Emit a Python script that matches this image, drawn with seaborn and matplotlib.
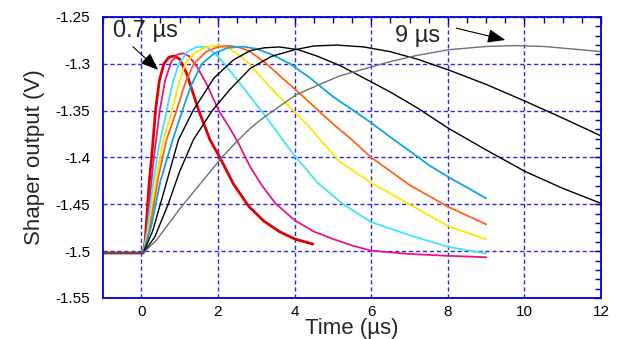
import numpy as np
import pandas as pd
import matplotlib
matplotlib.use("Agg")
import matplotlib.pyplot as plt
from matplotlib.ticker import MultipleLocator
import seaborn as sns

# ── Data (time in µs, output in V) ─────────────────────────────────────────

BASE = -1.502

t_07 = [-1, 0.05, 0.1, 0.2, 0.3, 0.37, 0.47, 0.59, 0.72, 0.87, 1.0, 1.18, 1.5,
        1.79, 2.05, 2.4, 2.8, 3.2, 3.6, 4.0, 4.48]
v_07 = [BASE, BASE, -1.49, -1.43, -1.385, -1.35, -1.318, -1.30, -1.293, -1.2915,
        -1.295, -1.31, -1.35, -1.381, -1.40, -1.428, -1.452, -1.468, -1.479,
        -1.487, -1.4925]

t_pink = [-1, 0.05, 0.15, 0.3, 0.48, 0.62, 0.78, 0.95, 1.1, 1.25, 1.45, 1.71, 2.02,
          2.3, 2.55, 2.84, 3.15, 3.5, 4.0, 4.5, 5.0, 5.5, 6.0, 7.0, 8.0, 9.0]
v_pink = [BASE, BASE, -1.475, -1.41, -1.35, -1.318, -1.298, -1.29, -1.2888, -1.292,
          -1.303, -1.322, -1.35, -1.368, -1.386, -1.41, -1.43, -1.449, -1.467,
          -1.479, -1.487, -1.494, -1.4995, -1.503, -1.505, -1.5065]

t_cyan = [-1, 0.05, 0.15, 0.3, 0.45, 0.66, 0.82, 0.98, 1.2, 1.45, 1.7, 1.95, 2.17,
          2.5, 2.84, 3.26, 3.67, 4.0, 4.6, 5.27, 6.0, 7.0, 8.0, 9.0]
v_cyan = [BASE, BASE, -1.48, -1.43, -1.39, -1.35, -1.32, -1.30, -1.287, -1.282,
          -1.282, -1.29, -1.30, -1.317, -1.335, -1.357, -1.38, -1.398, -1.427,
          -1.45, -1.469, -1.483, -1.4954, -1.5024]

t_yel = [-1, 0.05, 0.2, 0.4, 0.58, 0.8, 1.0, 1.15, 1.4, 1.7, 2.0, 2.3, 2.6, 2.84,
         3.2, 3.6, 3.97, 4.4, 4.71, 5.19, 6.0, 7.0, 8.0, 9.0]
v_yel = [BASE, BASE, -1.475, -1.42, -1.381, -1.35, -1.318, -1.30, -1.288, -1.282,
         -1.2807, -1.284, -1.292, -1.301, -1.318, -1.335, -1.35, -1.368, -1.383,
         -1.405, -1.427, -1.45, -1.4732, -1.4874]

t_orng = [-1, 0.05, 0.2, 0.45, 0.66, 0.92, 1.15, 1.37, 1.7, 2.0, 2.32, 2.6, 2.84,
          3.27, 3.7, 4.2, 4.62, 5.0, 5.49, 6.0, 7.0, 8.0, 9.0]
v_orng = [BASE, BASE, -1.48, -1.42, -1.381, -1.35, -1.32, -1.30, -1.287, -1.282,
          -1.2807, -1.283, -1.287, -1.30, -1.316, -1.334, -1.35, -1.364, -1.381,
          -1.40, -1.4294, -1.4525, -1.4714]

t_blue = [-1, 0.05, 0.25, 0.5, 0.82, 1.07, 1.3, 1.58, 1.9, 2.25, 2.66, 3.0, 3.4,
          3.88, 4.4, 5.0, 5.54, 6.0, 6.49, 7.0, 7.5, 8.06, 8.5, 9.0]
v_blue = [BASE, BASE, -1.475, -1.425, -1.381, -1.35, -1.323, -1.30, -1.289, -1.283,
          -1.2817, -1.284, -1.29, -1.30, -1.315, -1.335, -1.35, -1.363, -1.378,
          -1.393, -1.408, -1.422, -1.432, -1.4437]

t_blk1 = [-1, 0.05, 0.3, 0.6, 0.97, 1.35, 1.9, 2.4, 2.84, 3.2, 3.6, 4.1, 4.6, 5.19,
          5.8, 6.49, 7.2, 8.02, 9.0, 10.02, 11.0, 12.0]
v_blk1 = [BASE, BASE, -1.478, -1.435, -1.381, -1.35, -1.315, -1.296, -1.286, -1.283,
          -1.282, -1.285, -1.292, -1.302, -1.315, -1.33, -1.347, -1.369, -1.392,
          -1.415, -1.433, -1.449]

t_blk2 = [-1, 0.05, 0.35, 0.7, 1.0, 1.36, 1.85, 2.3, 2.84, 3.4, 4.0, 4.5, 5.1, 5.8,
          6.49, 7.2, 8.02, 9.0, 10.02, 11.0, 12.0]
v_blk2 = [BASE, BASE, -1.485, -1.45, -1.415, -1.381, -1.35, -1.328, -1.305, -1.292,
          -1.285, -1.281, -1.280, -1.282, -1.287, -1.295, -1.3066, -1.322, -1.340,
          -1.358, -1.377]

t_9 = [-1, 0.05, 0.4, 1.0, 1.5, 2.1, 2.49, 2.84, 3.17, 4.04, 5.17, 6.49, 7.2, 8.02,
       9.0, 9.7, 10.5, 11.2, 12.0]
v_9 = [BASE, BASE, -1.488, -1.455, -1.43, -1.40, -1.383, -1.369, -1.358, -1.333,
       -1.313, -1.2977, -1.291, -1.285, -1.2815, -1.2806, -1.2815, -1.284, -1.287]

CURVES = [
    ("0.7", t_07, v_07, "#e00000", 2.0),
    ("pink", t_pink, v_pink, "#ee1480", 1.3),
    ("cyan", t_cyan, v_cyan, "#40e4f4", 1.3),
    ("yellow", t_yel, v_yel, "#ffe600", 1.3),
    ("orange", t_orng, v_orng, "#ff6414", 1.3),
    ("blue", t_blue, v_blue, "#10a4e4", 1.3),
    ("black1", t_blk1, v_blk1, "#000000", 1.0),
    ("black2", t_blk2, v_blk2, "#000000", 1.0),
    ("9", t_9, v_9, "#707070", 1.0),
]

AXIS_BLUE = "#0000cc"
GRID_BLUE = "#2a2ae6"

# ── Plot ───────────────────────────────────────────────────────────────────

sns.set_theme(style="white")
plt.rcParams["font.family"] = ["Liberation Sans", "DejaVu Sans"]

fig = plt.figure(figsize=(6.25, 3.39), dpi=100)
ax = fig.add_axes([0.1648, 0.121, 0.797, 0.829])

for name, t, v, color, lw in CURVES:
    df = pd.DataFrame({"t": t, "v": v})
    sns.lineplot(data=df, x="t", y="v", color=color, lw=lw, sort=False,
                 estimator=None, ax=ax)

ax.set_xlim(-1, 12)
ax.set_ylim(-1.55, -1.25)
ax.xaxis.set_major_locator(MultipleLocator(2))
ax.xaxis.set_minor_locator(MultipleLocator(0.5))
ax.yaxis.set_major_locator(MultipleLocator(0.05))
ax.yaxis.set_minor_locator(MultipleLocator(0.01))
ax.set_yticks(np.arange(-1.55, -1.249, 0.05))
ax.set_yticklabels(["-1.55", "-1.5", "-1.45", "-1.4", "-1.35", "-1.3", "-1.25"])

ax.grid(True, which="major", color=GRID_BLUE, lw=1.0, ls=(0, (3, 2)))
for s in ax.spines.values():
    s.set_color(AXIS_BLUE)
    s.set_linewidth(1.3)
ax.tick_params(which="both", direction="in", top=True, right=True,
               color=AXIS_BLUE, labelsize=11, labelcolor="black")
ax.tick_params(which="major", length=5, width=1)
ax.tick_params(which="minor", length=4, width=1)
ax.tick_params(axis="y", pad=9)
ax.tick_params(axis="x", pad=5)

ax.set_xlabel("Time (µs)", fontsize=16, labelpad=-1)
ax.set_ylabel("Shaper output (V)", fontsize=16, labelpad=8)

arrow = dict(arrowstyle="-|>,head_length=0.9,head_width=0.35", color="black",
             lw=0.8, shrinkA=0, shrinkB=0)
ax.text(-0.74, -1.2714, "0.7 µs", fontsize=17, ha="left", va="baseline")
ax.annotate("", xy=(0.44, -1.3066), xytext=(-0.22, -1.2817), arrowprops=arrow)
ax.text(6.62, -1.2767, "9 µs", fontsize=17, ha="left", va="baseline")
ax.annotate("", xy=(9.5, -1.2746), xytext=(8.22, -1.262), arrowprops=arrow)

fig.savefig("out.png", dpi=100)
